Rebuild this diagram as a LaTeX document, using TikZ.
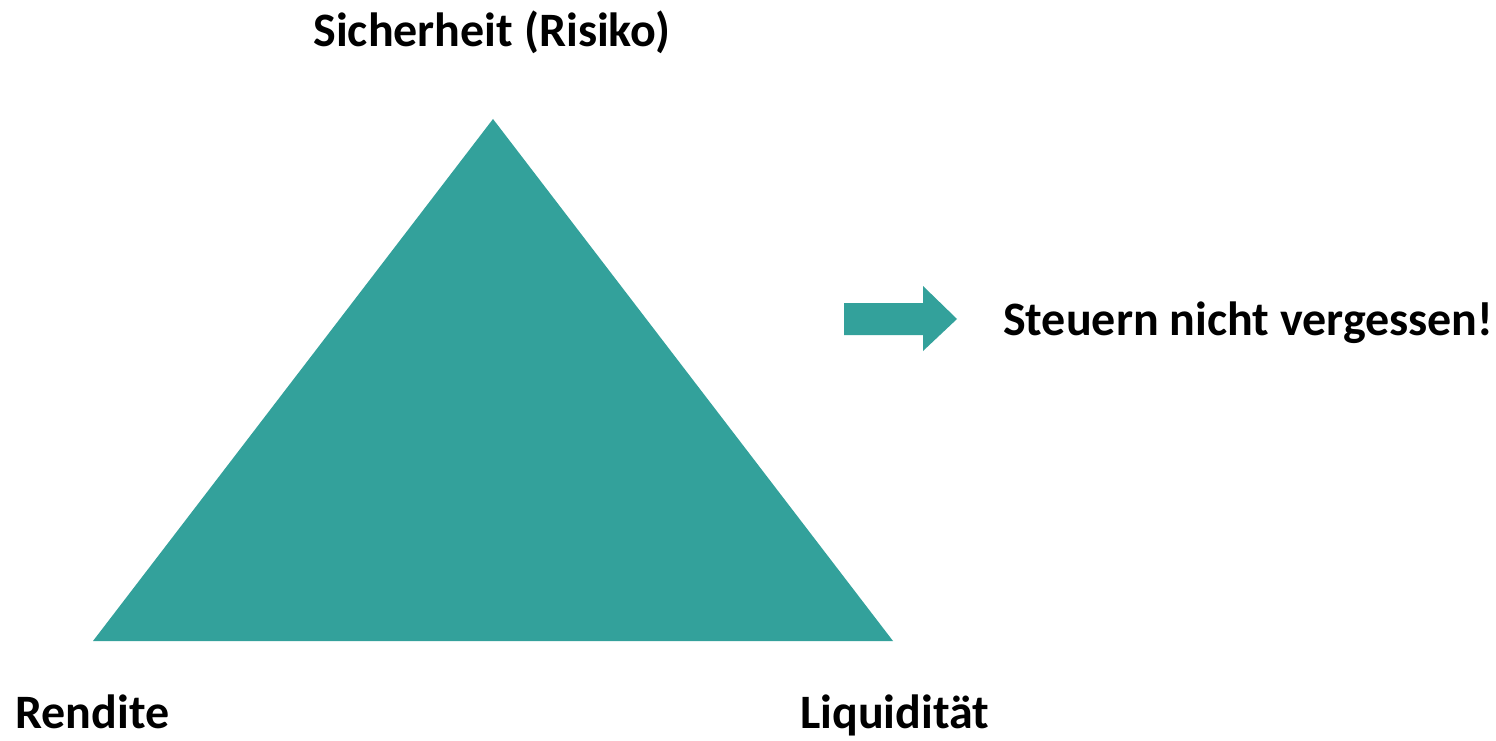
\documentclass[tikz,border=0pt]{standalone}
\usepackage{fontspec}
\setmainfont{Carlito}
\definecolor{teal1}{HTML}{33A19B}
\begin{document}
\begin{tikzpicture}[x=1pt,y=-1pt,
  lbl/.style={inner sep=0pt,font=\fontsize{48}{56}\selectfont\bfseries}]
\useasboundingbox (0,0) rectangle (1496,741);
\fill[white] (0,0) rectangle (1496,741);
\coordinate (top) at (493,119);
\coordinate (bl) at (93,641);
\coordinate (br) at (893,641);
\fill[teal1] (top) -- (bl) -- (br) -- cycle;
\fill[teal1] (844,303) -- (923,303) -- (923,286) -- (957,319) -- (923,351) -- (923,335) -- (844,335) -- cycle;
\node[lbl,anchor=base] (s) at (492,47) {Sicherheit (Risiko)};
\node[lbl,anchor=base west] (r) at (15,728) {Rendite};
\node[lbl,anchor=base west] (l) at (800,728) {Liquidität};
\node[lbl,anchor=base west] (st) at (1003,335) {Steuern nicht vergessen!};
\end{tikzpicture}
\end{document}
